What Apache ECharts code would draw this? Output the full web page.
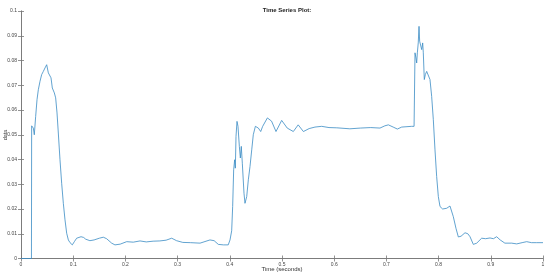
<!DOCTYPE html>
<html>
<head>
<meta charset="utf-8">
<script src="https://cdn.jsdelivr.net/npm/echarts@6/dist/echarts.min.js"></script>
<style>
  html, body { margin: 0; padding: 0; background: #fff; }
  #main { width: 550px; height: 276px; }
</style>
</head>
<body>
<div id="main"></div>
<script>
// time (s) and signal values
const times = [
  0, 0.0200, 0.0204, 0.0236, 0.0255, 0.0281, 0.0307, 0.0332, 0.0364, 0.0396,
  0.0428, 0.0460, 0.0492, 0.0524, 0.0549, 0.0575, 0.0600, 0.0639, 0.0664, 0.0690,
  0.0715, 0.0747, 0.0779, 0.0811, 0.0843, 0.0875, 0.0907, 0.0939, 0.0983, 0.1022,
  0.1066, 0.1098, 0.1150, 0.1200, 0.1240, 0.1270, 0.1320, 0.1400, 0.1500, 0.1577,
  0.1640, 0.1737, 0.1800, 0.1900, 0.2025, 0.2150, 0.2280, 0.2400, 0.2530, 0.2660,
  0.2780, 0.2887, 0.2980, 0.3100, 0.3250, 0.3430, 0.3620, 0.3700, 0.3780, 0.3880,
  0.3970, 0.4004, 0.4036, 0.4055, 0.4074, 0.4093, 0.4106, 0.4119, 0.4138, 0.4157,
  0.4183, 0.4202, 0.4220, 0.4240, 0.4272, 0.4291, 0.4324, 0.4355, 0.4387, 0.4420,
  0.4450, 0.4490, 0.4547, 0.4592, 0.4630, 0.4720, 0.4800, 0.4885, 0.4994, 0.5100,
  0.5217, 0.5310, 0.5410, 0.5520, 0.5632, 0.5760, 0.5900, 0.6050, 0.6300, 0.6500,
  0.6700, 0.6877, 0.6970, 0.7037, 0.7130, 0.7210, 0.7293, 0.7484, 0.7530, 0.7548,
  0.7567, 0.7580, 0.7593, 0.7610, 0.7625, 0.7637, 0.7655, 0.7676, 0.7695, 0.7707,
  0.7726, 0.7746, 0.7772, 0.7803, 0.7835, 0.7867, 0.7899, 0.7931, 0.7963, 0.7995,
  0.8027, 0.8078, 0.8155, 0.8218, 0.8282, 0.8333, 0.8378, 0.8430, 0.8506, 0.8560,
  0.8602, 0.8665, 0.8730, 0.8825, 0.8900, 0.8985, 0.9050, 0.9112, 0.9180, 0.9270,
  0.9400, 0.9496, 0.9600, 0.9687, 0.9780, 0.9880, 1.0000
]
const values = [
  0, 0, 0.0536, 0.0527, 0.0500, 0.0574, 0.0642, 0.0682, 0.0716, 0.0743,
  0.0756, 0.0770, 0.0783, 0.0750, 0.0756, 0.0730, 0.0689, 0.0669, 0.0649, 0.0588,
  0.0507, 0.0399, 0.0304, 0.0223, 0.0156, 0.0102, 0.0075, 0.0064, 0.0055, 0.0068,
  0.0082, 0.0087, 0.0088, 0.0085, 0.0078, 0.0075, 0.0072, 0.0075, 0.0082, 0.0086,
  0.0080, 0.0062, 0.0055, 0.0058, 0.0068, 0.0066, 0.0071, 0.0067, 0.0070, 0.0071,
  0.0074, 0.0082, 0.0072, 0.0065, 0.0064, 0.0062, 0.0075, 0.0072, 0.0057, 0.0055,
  0.0055, 0.0075, 0.0112, 0.0210, 0.0358, 0.0399, 0.0365, 0.0493, 0.0554, 0.0534,
  0.0453, 0.0406, 0.0453, 0.0385, 0.0264, 0.0223, 0.0250, 0.0318, 0.0372, 0.0439,
  0.0500, 0.0534, 0.0527, 0.0513, 0.0534, 0.0568, 0.0555, 0.0513, 0.0558, 0.0527,
  0.0513, 0.0540, 0.0513, 0.0525, 0.0531, 0.0534, 0.0529, 0.0528, 0.0524, 0.0527,
  0.0529, 0.0527, 0.0536, 0.0540, 0.0531, 0.0523, 0.0531, 0.0534, 0.0534, 0.0831,
  0.0810, 0.0790, 0.0831, 0.0871, 0.0938, 0.0878, 0.0880, 0.0844, 0.0871, 0.0831,
  0.0723, 0.0743, 0.0756, 0.0750, 0.0723, 0.0655, 0.0561, 0.0439, 0.0331, 0.0250,
  0.0210, 0.0200, 0.0203, 0.0212, 0.0169, 0.0122, 0.0087, 0.0090, 0.0104, 0.0100,
  0.0088, 0.0057, 0.0062, 0.0082, 0.0080, 0.0083, 0.0080, 0.0088, 0.0075, 0.0062,
  0.0062, 0.0059, 0.0064, 0.0068, 0.0064, 0.0064, 0.0064
]

const chart = echarts.init(document.getElementById('main'))
const axisColor = '#777'
const font = 'Liberation Sans'
const labelStyle = { color: '#444', fontSize: 5, fontFamily: font }
const tick = { show: true, inside: true, length: 3, lineStyle: { color: axisColor, width: 0.8 } }

const option = {
  animation: false,
  title: {
    text: 'Time Series Plot:',
    left: 282, top: 2, textAlign: 'center',
    textStyle: { fontSize: 6, fontWeight: 'bold', color: '#222', fontFamily: font }
  },
  // axis titles placed as plain text
  graphic: [{
    type: 'text', x: 282, y: 269,
    style: { text: 'Time (seconds)', fontSize: 6, fill: '#333', fontFamily: font, align: 'center', verticalAlign: 'middle' }
  }, {
    type: 'text', x: 5, y: 135, rotation: Math.PI / 2,
    style: { text: 'data', fontSize: 5.5, fill: '#333', fontFamily: font, align: 'center', verticalAlign: 'middle' }
  }],
  grid: { left: 21, right: 7, top: 11, bottom: 17.5, outerBoundsMode: 'none', containLabel: false },
  xAxis: [{
    type: 'value', min: 0, max: 1, interval: 0.1,
    axisLine: { lineStyle: { color: axisColor, width: 0.8 } },
    axisTick: tick,
    axisLabel: Object.assign({ margin: 4 }, labelStyle),
    splitLine: { show: false }
  }, {
    type: 'value', min: 0, max: 1, interval: 0.1, position: 'top',
    axisLine: { show: true, lineStyle: { color: axisColor, width: 0.8 } },
    axisTick: tick, axisLabel: { show: false }, splitLine: { show: false }
  }],
  yAxis: [{
    type: 'value', min: 0, max: 0.1, interval: 0.01,
    axisLine: { show: true, lineStyle: { color: axisColor, width: 0.8 } },
    axisTick: tick,
    axisLabel: Object.assign({ margin: 4 }, labelStyle),
    splitLine: { show: false }
  }, {
    type: 'value', min: 0, max: 0.1, interval: 0.01, position: 'right',
    axisLine: { show: true, lineStyle: { color: axisColor, width: 0.8 } },
    axisTick: tick, axisLabel: { show: false }, splitLine: { show: false }
  }],
  series: [{
    type: 'line',
    data: times.map((t, i) => [t, values[i]]),
    showSymbol: false,
    lineStyle: { color: '#3a8cc4', width: 0.8 },
    itemStyle: { color: '#3a8cc4' }
  }]
}
chart.setOption(option)
</script>
</body>
</html>
